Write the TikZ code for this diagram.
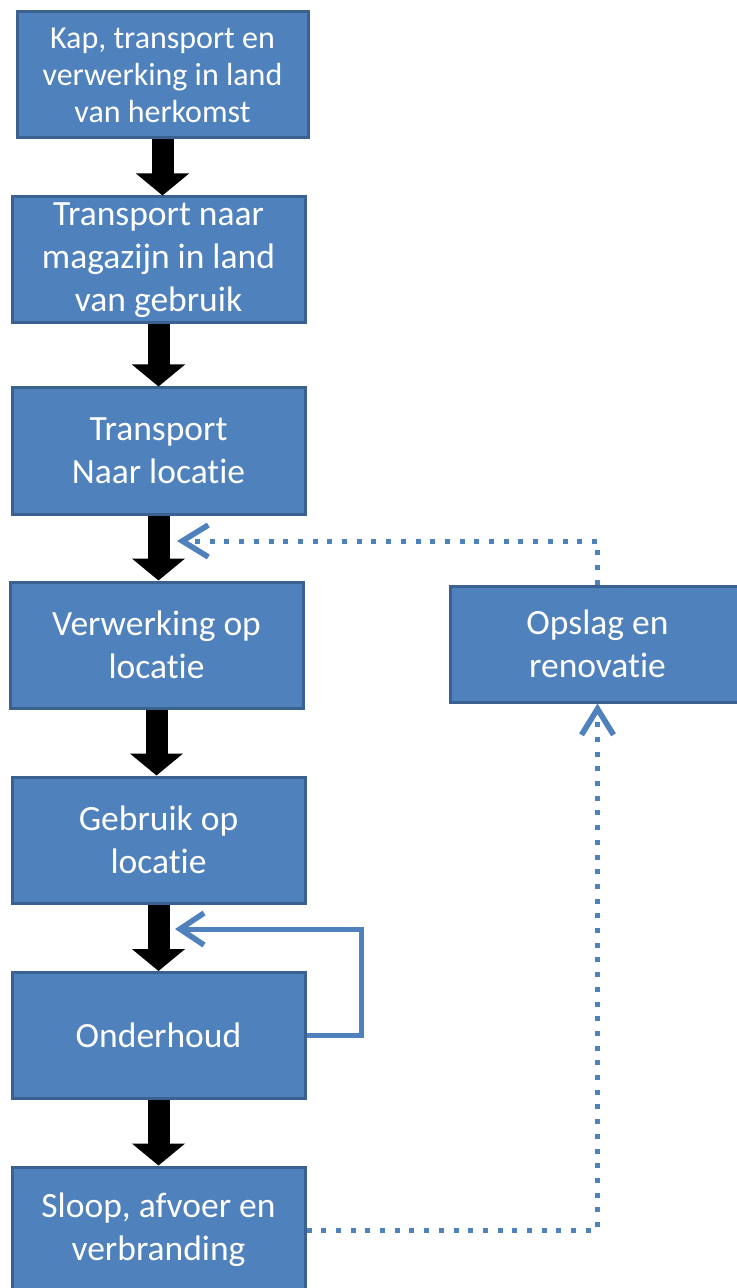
\documentclass[tikz,border=0pt]{standalone}
\usepackage{fontspec}
\setmainfont{Carlito}[Ligatures=NoCommon]
\usetikzlibrary{arrows.meta}
\definecolor{vakblauw}{HTML}{4F81BD}
\definecolor{randblauw}{HTML}{3A6190}

\begin{document}
\begin{tikzpicture}[x=0.5pt, y=-0.5pt,
  stap/.style={draw=randblauw, line width=1.5pt, fill=vakblauw, text=white,
    minimum width=146.5pt, minimum height=63pt, inner sep=0pt, align=center,
    font=\fontsize{17.75}{21.5}\selectfont},
  pijl/.style={line width=11pt, -{Triangle[width=26pt, length=11pt]}},
  lus/.style={vakblauw, line width=2.5pt,
    -{Straight Barb[length=12pt, width=16pt, line width=2.8pt]}},
  terug/.style={vakblauw, line width=2.5pt, dash pattern=on 2.5pt off 4.85pt,
    -{Straight Barb[length=13pt, width=16pt, line width=2.8pt]}}]
  \useasboundingbox (0,0) rectangle (736,1288);

  % ==================== hoofdketen ====================
  \node[stap, minimum width=145.5pt, font=\fontsize{16}{18.5}\selectfont] (kap) at (162.5,75)
    {Kap, transport en\\verwerking in land\\van herkomst};
  \node[stap] (magazijn) at (158.5,260) {Transport naar\\magazijn in land\\van gebruik};
  \node[stap] (transport) at (158.5,451) {Transport\\Naar locatie};
  \node[stap] (verwerking) at (156.5,645) {Verwerking op\\locatie};
  \node[stap] (gebruik) at (158.5,840) {Gebruik op\\locatie};
  \node[stap] (onderhoud) at (158.5,1035.5) {Onderhoud};
  \node[stap] (sloop) at (158.5,1230) {Sloop, afvoer en\\verbranding};

  % zijtak rechts
  \node[stap, minimum width=147.5pt, minimum height=58pt] (opslag) at (597.5,644) {Opslag en\\renovatie};

  % zwarte pijlen tussen de stappen
  \draw[pijl] (kap.south) -- (kap.south |- magazijn.north);
  \draw[pijl] (magazijn.south) -- (magazijn.south |- transport.north);
  \draw[pijl] (transport.south) -- (transport.south |- verwerking.north);
  \draw[pijl] (verwerking.south) -- (verwerking.south |- gebruik.north);
  \draw[pijl] (gebruik.south) -- (gebruik.south |- onderhoud.north);
  \draw[pijl] (onderhoud.south) -- (onderhoud.south |- sloop.north);

  % ==================== terugkoppelingen ====================
  \coordinate (lusin) at (175,929);
  \coordinate (terugin) at (177,541);

  % onderhoud -> terug naar gebruik
  \draw[lus] (onderhoud.east) -- ++(55,0) |- (lusin);

  % sloop -> opslag -> terug naar verwerking
  \draw[terug] (sloop.east) -| (opslag.south);
  \draw[terug] (opslag.north) |- (terugin);
\end{tikzpicture}
\end{document}
